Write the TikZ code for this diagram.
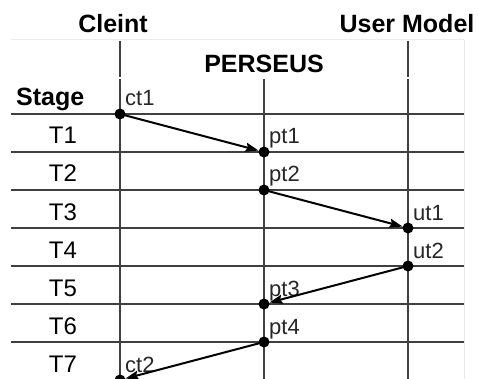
\documentclass[tikz,border=0pt]{standalone}
\usepackage{fontspec}
\setmainfont{Liberation Sans}
\usetikzlibrary{arrows.meta}
\begin{document}
\begin{tikzpicture}[x=1pt,y=-1pt,
  grid/.style={draw=black!75,line width=2pt},
  faint/.style={draw=black!8,line width=1pt},
  head/.style={font=\bfseries\fontsize{25}{28}\selectfont,inner sep=0pt,anchor=base},
  stagelbl/.style={font=\fontsize{24}{27}\selectfont,inner sep=0pt,anchor=base},
  ptlbl/.style={font=\fontsize{22}{25}\selectfont,text=black!85,inner sep=0pt,anchor=base west},
  dot/.style={circle,fill=black,inner sep=0pt,minimum size=11pt},
  msg/.style={-{Stealth[length=13pt,width=9pt,inset=2pt]},line width=2pt,black}]
\useasboundingbox (0,0) rectangle (478,379);

% faint outer frame
\draw[faint] (11,40) -- (464,40);
\draw[faint] (464,40) -- (464,379);

% row separators
\foreach \y in {114,152,190,228,266,304,342}
  \draw[grid] (11,\y) -- (464,\y);

% lifelines
\draw[grid] (120,41) -- (120,77);
\draw[grid] (120,79) -- (120,380);
\draw[grid] (264,79) -- (264,380);
\draw[grid] (408,41) -- (408,77);
\draw[grid] (408,79) -- (408,380);

% headings
\node[head] (hclient) at (113,33) {Cleint};
\node[head] (huser) at (407,33) {User Model};
\node[head] (hpers) at (264,73) {PERSEUS};
\node[head,anchor=base west] (hstage) at (16,106) {Stage};

% stage labels
\foreach \i/\y in {1/144,2/182,3/220,4/258,5/296,6/334,7/372}
  \node[stagelbl] (T\i) at (63,\y) {T\i};

% events
\node[dot] (ct1) at (120,114) {};
\node[dot] (pt1) at (264,152) {};
\node[dot] (pt2) at (264,190) {};
\node[dot] (ut1) at (408,228) {};
\node[dot] (ut2) at (408,266) {};
\node[dot] (pt3) at (264,304) {};
\node[dot] (pt4) at (264,342) {};
\node[dot] (ct2) at (120,380) {};

% event labels
\node[ptlbl] (lct1) at (125,106) {ct1};
\node[ptlbl] (lpt1) at (269,144) {pt1};
\node[ptlbl] (lpt2) at (269,182) {pt2};
\node[ptlbl] (lut1) at (413,220) {ut1};
\node[ptlbl] (lut2) at (413,258) {ut2};
\node[ptlbl] (lpt3) at (269,296) {pt3};
\node[ptlbl] (lpt4) at (269,334) {pt4};
\node[ptlbl] (lct2) at (125,372) {ct2};

% messages
\draw[msg] (ct1.center) -- (pt1);
\draw[msg] (pt2.center) -- (ut1);
\draw[msg] (ut2.center) -- (pt3);
\draw[msg] (pt4.center) -- (ct2);
\end{tikzpicture}
\end{document}
